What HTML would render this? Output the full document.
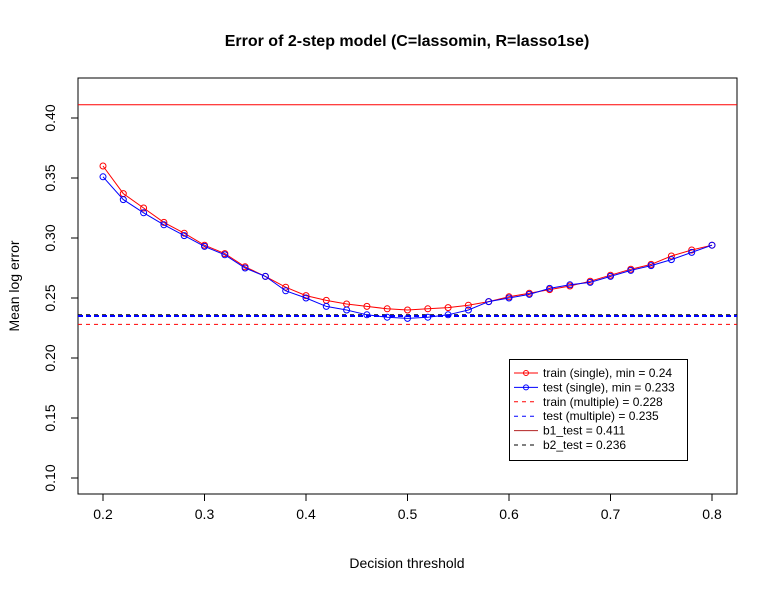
<!DOCTYPE html>
<html><head><meta charset="utf-8"><style>
body{margin:0;background:#fff}
svg text{font-family:"Liberation Sans",Arial,sans-serif}
</style></head><body>
<svg id="chart" width="777" height="592" xmlns="http://www.w3.org/2000/svg">
<rect width="777" height="592" fill="#fff"/>
<text x="407" y="46" text-anchor="middle" font-size="16" font-weight="bold">Error of 2-step model (C=lassomin, R=lasso1se)</text>
<text x="407" y="568" text-anchor="middle" font-size="14">Decision threshold</text>
<text transform="translate(19,286) rotate(-90)" text-anchor="middle" font-size="14">Mean log error</text>
<rect x="78" y="78" width="659" height="416" fill="none" stroke="#000"/>
<g id="axes"></g>
<g id="marks"></g>
<g>
<rect x="509.5" y="359.5" width="178" height="101" fill="#fff" stroke="#000"/>
<line x1="514" x2="538" y1="373" y2="373" stroke="#f00"/><circle cx="526" cy="373" r="2.5" fill="none" stroke="#f00"/>
<text x="543" y="377" font-size="12">train (single), min = 0.24</text>
<line x1="514" x2="538" y1="387.4" y2="387.4" stroke="#00f"/><circle cx="526" cy="387.4" r="2.5" fill="none" stroke="#00f"/>
<text x="543" y="391.4" font-size="12">test (single), min = 0.233</text>
<line x1="514" x2="538" y1="401.8" y2="401.8" stroke="#f00" stroke-dasharray="4,4"/>
<text x="543" y="405.8" font-size="12">train (multiple) = 0.228</text>
<line x1="514" x2="538" y1="416.2" y2="416.2" stroke="#00f" stroke-dasharray="4,4"/>
<text x="543" y="420.2" font-size="12">test (multiple) = 0.235</text>
<line x1="514" x2="538" y1="430.6" y2="430.6" stroke="#b22222"/>
<text x="543" y="434.6" font-size="12">b1_test = 0.411</text>
<line x1="514" x2="538" y1="445" y2="445" stroke="#000" stroke-dasharray="4,4"/>
<text x="543" y="449" font-size="12">b2_test = 0.236</text>
</g>
</svg>
<script>
const thresholds=[0.2,0.22,0.24,0.26,0.28,0.3,0.32,0.34,0.36,0.38,0.4,0.42,0.44,0.46,0.48,0.5,0.52,0.54,0.56,0.58,0.6,0.62,0.64,0.66,0.68,0.7,0.72,0.74,0.76,0.78,0.8];
const trainSingle=[0.360,0.337,0.325,0.313,0.304,0.294,0.287,0.276,0.268,0.259,0.252,0.248,0.245,0.243,0.241,0.240,0.241,0.242,0.244,0.247,0.251,0.254,0.257,0.260,0.264,0.269,0.274,0.278,0.285,0.290,0.294];
const testSingle=[0.351,0.332,0.321,0.311,0.302,0.293,0.286,0.275,0.268,0.256,0.250,0.243,0.240,0.236,0.234,0.233,0.234,0.236,0.240,0.247,0.250,0.253,0.258,0.261,0.263,0.268,0.273,0.277,0.282,0.288,0.294];
const hLines=[0.411,0.228,0.236,0.235];
const xTicks=[0.2,0.3,0.4,0.5,0.6,0.7,0.8];
const yTicks=[0.10,0.15,0.20,0.25,0.30,0.35,0.40];
const NS="http://www.w3.org/2000/svg";
const xs=v=>103+(v-0.2)*1015;
const ys=v=>478-(v-0.1)*1200;
function mk(tag,attrs,parent){const e=document.createElementNS(NS,tag);for(const k in attrs)e.setAttribute(k,attrs[k]);parent.appendChild(e);return e;}
const axes=document.getElementById('axes'),marks=document.getElementById('marks');
xTicks.forEach(t=>{
 const l=mk('line',{x1:xs(t),x2:xs(t),y1:494,y2:501,stroke:'#000'},axes);
 
 
 const tx=mk('text',{x:xs(t),y:519,'text-anchor':'middle','font-size':14},axes);tx.textContent=t.toFixed(1);
 
 
});
yTicks.forEach(t=>{
 const l=mk('line',{x1:71,x2:78,y1:ys(t),y2:ys(t),stroke:'#000'},axes);
 
 
 const tx=mk('text',{transform:`translate(55,${ys(t)}) rotate(-90)`,'text-anchor':'middle','font-size':14},axes);tx.textContent=t.toFixed(2);
 
 
});
const hStyles=[{stroke:'#f00',w:1,d:''},{stroke:'#f00',w:1,d:'4,4'},{stroke:'#000',w:1,d:'4,4'},{stroke:'#00f',w:2,d:'5,3'}];
const hNames=['b1-test-line','train-multiple-line','b2-test-line','test-multiple-line'];
hLines.forEach((v,i)=>{
 const s=hStyles[i];
 const l=mk('line',{x1:78,x2:737,y1:ys(v),y2:ys(v),stroke:s.stroke,'stroke-width':s.w,'stroke-dasharray':s.d},marks);
 
 
});
function series(vals,color,name){
 const p=mk('polyline',{points:vals.map((v,i)=>xs(thresholds[i])+','+ys(v)).join(' '),fill:'none',stroke:color},marks);
 
 
 vals.forEach((v,i)=>{
  const c=mk('circle',{cx:xs(thresholds[i]),cy:ys(v),r:3,fill:'none',stroke:color},marks);
  
  
 });
}
series(trainSingle,'#f00','train-single');
series(testSingle,'#00f','test-single');
</script>
</body></html>
